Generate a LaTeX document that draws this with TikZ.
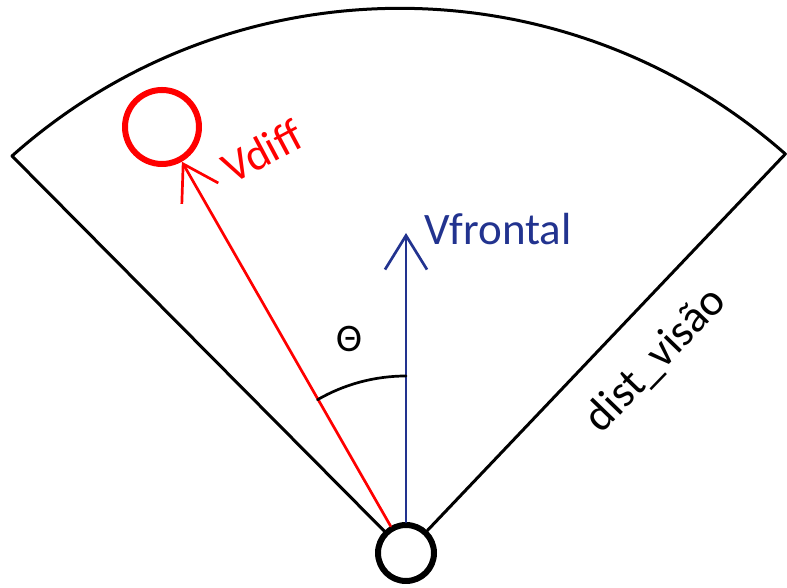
\documentclass[tikz,border=0pt]{standalone}
\usepackage{fontspec}
\setmainfont{Carlito}
\usetikzlibrary{arrows.meta}
\definecolor{navyblue}{HTML}{22338F}
\definecolor{vred}{HTML}{FF0000}
\tikzset{
    lab/.style={
        font=\fontsize{22.5}{27}\selectfont
    },
    ring/.style={circle, draw, line width=3pt, inner sep=0pt},
    vec/.style={line width=1.35pt, -{Straight Barb[length=17pt, width=21pt]}}
}

\begin{document}
\begin{tikzpicture}[x=0.5pt,y=0.5pt, line cap=round, line join=round]

\useasboundingbox (0,0) rectangle (787,588);

% observer and target
\node[ring, minimum size=28pt] (obs) at (406,35) {};
\node[ring, vred, minimum size=37pt] (alvo) at (162,461) {};

% field of view
\coordinate (esq) at (12,432);
\draw[line width=1.5pt] (obs) -- (esq) arc[start angle=131.7, end angle=48.6, radius=583] -- (obs);

% vectors
\coordinate (frente) at (406,355);
\draw[vec, navyblue] (obs) -- (frente);
\draw[vec, vred] (obs) -- (alvo);

% angle between them
\draw[line width=1.35pt] (obs.center) ++(90:177) arc[start angle=90, end angle=120, radius=177];

% labels
\node[lab, navyblue, anchor=base west] (lfrontal) at (417,343) {Vfrontal};
\node[lab, vred, rotate=28] (ldiff) at (262,437) {Vdiff};
\node[font=\fontsize{19.5}{23}\selectfont] (ltheta) at (349,249) {Θ};
\node[lab, rotate=46] (ldist) at (656,228) {dist\_visão};

\end{tikzpicture}
\end{document}
